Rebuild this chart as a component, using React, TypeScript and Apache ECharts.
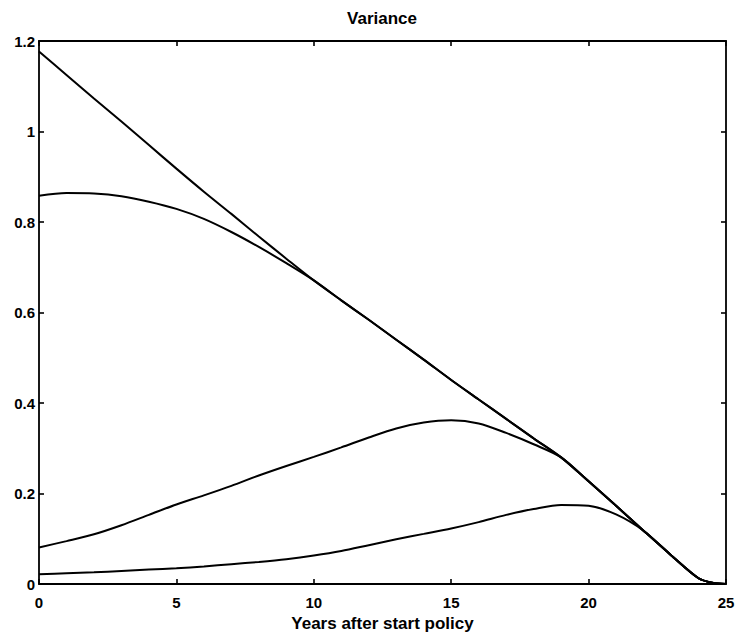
import React, { useEffect, useRef } from "react";
import * as echarts from "echarts";

const years = [0, 1, 2, 3, 4, 5, 6, 7, 8, 9, 10, 11, 12, 13, 14, 15, 16, 17, 18, 19, 20, 21, 22, 23, 24, 24.5, 25];

const straightLine = [1.177, 1.125, 1.073, 1.022, 0.97, 0.918, 0.867, 0.818, 0.768, 0.719, 0.671, 0.627, 0.584, 0.54, 0.496, 0.451, 0.408, 0.365, 0.322, 0.28, 0.227, 0.173, 0.118, 0.064, 0.013, 0.003, 0];

const upperCurve = [0.858, 0.864, 0.863, 0.857, 0.845, 0.829, 0.807, 0.778, 0.745, 0.709, 0.671, 0.627, 0.584, 0.54, 0.496, 0.451, 0.408, 0.365, 0.322, 0.28, 0.227, 0.173, 0.118, 0.064, 0.013, 0.003, 0];

const middleCurve = [0.081, 0.095, 0.11, 0.13, 0.153, 0.176, 0.196, 0.217, 0.24, 0.261, 0.281, 0.302, 0.324, 0.344, 0.357, 0.362, 0.355, 0.334, 0.309, 0.28, 0.227, 0.173, 0.118, 0.064, 0.013, 0.003, 0];

const lowerCurve = [0.022, 0.024, 0.026, 0.029, 0.032, 0.035, 0.039, 0.044, 0.049, 0.055, 0.063, 0.073, 0.086, 0.099, 0.111, 0.123, 0.137, 0.153, 0.166, 0.175, 0.173, 0.154, 0.118, 0.064, 0.013, 0.003, 0];

const xTicks = { min: 0, max: 25, interval: 5 };
const yTicks = { min: 0, max: 1.2, interval: 0.2 };

const titleText = "Variance";
const xAxisTitle = "Years after start policy";

const FONT = "'Liberation Sans', Arial, sans-serif";

function pairs(vals: number[]) {
  return years.map((x, i) => [x, vals[i]]);
}

export default function App() {
  const ref = useRef<HTMLDivElement>(null);
  useEffect(() => {
    if (!ref.current) return;
    const chart = echarts.init(ref.current, undefined, { renderer: "svg" });
    const axisLine = { show: true, onZero: false, lineStyle: { color: "#000", width: 1.8 } };
    const tick = { show: true, inside: true, length: 5, lineStyle: { color: "#000", width: 1.6 } };
    const label = { color: "#000", fontFamily: FONT, fontWeight: "bold" as const, fontSize: 15 };
    const seriesList = [straightLine, upperCurve, middleCurve, lowerCurve].map((v, i) => ({
      type: "line" as const,
      name: "s" + i,
      data: pairs(v),
      smooth: 0.3,
      showSymbol: false,
      symbol: "none",
      lineStyle: { color: "#000", width: 2 },
      z: 3,
    }));
    chart.setOption({
      animation: false,
      backgroundColor: "#fff",
      grid: { left: 39, right: 12, top: 41, bottom: 49, containLabel: false },
      graphic: [
        {
          type: "text",
          x: 382,
          y: 18,
          style: {
            text: titleText,
            textAlign: "center",
            textVerticalAlign: "middle",
            font: "bold 17px " + FONT,
            fill: "#000",
          },
        },
      ],
      xAxis: [
        {
          type: "value",
          ...xTicks,
          position: "bottom",
          axisLine,
          axisTick: tick,
          splitLine: { show: false },
          axisLabel: { ...label, margin: 11 },
          name: xAxisTitle,
          nameLocation: "middle",
          nameGap: 28,
          nameTextStyle: { color: "#000", fontFamily: FONT, fontWeight: "bold", fontSize: 17 },
        },
        {
          type: "value",
          ...xTicks,
          position: "top",
          axisLine,
          axisTick: tick,
          splitLine: { show: false },
          axisLabel: { show: false },
        },
      ],
      yAxis: [
        {
          type: "value",
          ...yTicks,
          position: "left",
          axisLine,
          axisTick: tick,
          splitLine: { show: false },
          axisLabel: { ...label, margin: 4 },
        },
        {
          type: "value",
          ...yTicks,
          position: "right",
          axisLine,
          axisTick: tick,
          splitLine: { show: false },
          axisLabel: { show: false },
        },
      ],
      series: seriesList,
    });
    return () => chart.dispose();
  }, []);
  return (
    <div
      ref={ref}
      style={{ position: "fixed", left: 0, top: 0, width: 738, height: 637, background: "#fff" }}
    />
  );
}
